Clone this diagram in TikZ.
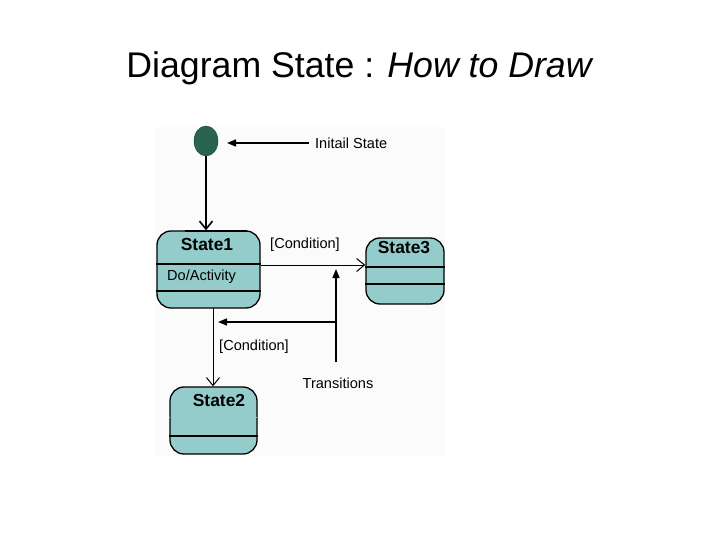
\documentclass[tikz,border=0pt]{standalone}
\usepackage{fontspec}
\setmainfont{Liberation Sans}
\usetikzlibrary{arrows.meta,shapes.geometric}
\definecolor{stfill}{RGB}{148,204,204}
\definecolor{initgreen}{RGB}{42,100,80}
\definecolor{panel}{RGB}{251,251,251}
\tikzset{
  stbox/.style={draw=black,line width=1.3bp,fill=stfill,rounded corners=14bp,inner sep=0pt},
  stname/.style={font=\fontsize{17.5}{20}\selectfont\bfseries,inner sep=0pt},
  small/.style={font=\fontsize{14.6}{17}\selectfont,inner sep=0pt},
  openarr/.style={-{Straight Barb[length=8bp,width=13bp]},line width=1bp},
  fillarr/.style={-{Triangle[length=9bp,width=7bp]},line width=1.6bp},
  divider/.style={line width=1.2bp}
}
\begin{document}
\begin{tikzpicture}[x=1bp,y=-1bp]
\useasboundingbox (0,0) rectangle (720,540);
\fill[white] (0,0) rectangle (720,540);
\fill[panel] (155,127) rectangle (445,456);
% title
\node[font=\fontsize{35.8}{40}\selectfont,inner sep=0pt] (title) at (360,68) {Diagram State : \textit{How to Draw}};
% initial state
\node[ellipse,draw=initgreen!70!black,fill=initgreen,minimum width=24bp,minimum height=30bp,inner sep=0pt] (init) at (206,141) {};
\node[small,anchor=west] (initlbl) at (315,143) {Initail State};
\coordinate (initfrom) at (309,143);
\coordinate (initto) at (227,143);
\draw[fillarr] (initfrom) -- (initto);
% states
\node[stbox,minimum width=103bp,minimum height=77bp] (s1) at (208.5,269.5) {};
\node[stbox,minimum width=78bp,minimum height=66bp] (s3) at (405,271) {};
\node[stbox,minimum width=87bp,minimum height=67bp] (s2) at (213.5,420.5) {};
% compartments
\draw[divider] (s1.west |- 0,264) -- (s1.east |- 0,264);
\draw[divider] (s1.west |- 0,291) -- (s1.east |- 0,291);
\draw[line width=2.2bp] (185,231) -- (247,231);
\draw[divider] (s3.west |- 0,267) -- (s3.east |- 0,267);
\draw[divider] (s3.west |- 0,284) -- (s3.east |- 0,284);
\draw[divider] (s2.west |- 0,436) -- (s2.east |- 0,436);
\draw[black!25,dotted,line width=0.8bp] (s2.west |- 0,417) -- (s2.east |- 0,417);
% state texts
\node[stname] (n1) at (207,244) {State1};
\node[small,anchor=west] (a1) at (167,277) {Do/Activity};
\node[stname] (n3) at (404,248) {State3};
\node[stname] (n2) at (219,400) {State2};
% initial transition
\draw[openarr,line width=1.6bp] (init.south) -- (init.south |- s1.north);
% transitions
\coordinate (t13) at (s1.east |- 0,265);
\draw[openarr] (t13) -- (s3.west |- t13);
\node[small] (c13) at (305,245) {[Condition]};
\coordinate (t12) at (213,308);
\draw[openarr] (t12) -- (t12 |- s2.north);
\node[small] (c12) at (254,347) {[Condition]};
% transitions pointer
\node[small] (trans) at (338,383) {Transitions};
\coordinate (tbot) at (336,362);
\coordinate (tmid) at (336,322);
\coordinate (tleft) at (218,322);
\coordinate (ttop) at (336,269);
\draw[fillarr] (tbot) -- (ttop);
\draw[fillarr] (tmid) -- (tleft);
\end{tikzpicture}
\end{document}
